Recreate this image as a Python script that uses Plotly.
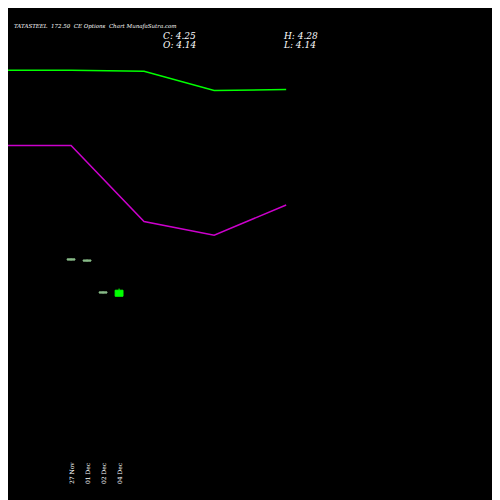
import plotly.graph_objects as go

dates = ["27 Nov", "01 Dec", "02 Dec", "04 Dec"]
cx = [0, 1, 2, 3]
opens = [4.82, 4.80, 4.22, 4.14]
closes = [4.80, 4.78, 4.20, 4.25]
highs = [4.83, 4.81, 4.23, 4.28]
lows = [4.79, 4.77, 4.19, 4.14]

line_x = [-4.44, 0, 4.56, 8.94, 13.44]
ma_green = [8.25, 8.25, 8.23, 7.88, 7.90]
ma_magenta = [6.88, 6.88, 5.50, 5.25, 5.80]

fig = go.Figure()
fig.add_trace(go.Scatter(x=line_x, y=ma_green, mode="lines", line=dict(color="#00ff00", width=1.5)))
fig.add_trace(go.Scatter(x=line_x, y=ma_magenta, mode="lines", line=dict(color="#cc00cc", width=1.5)))
fig.add_trace(go.Candlestick(x=cx, open=opens, close=closes, high=highs, low=lows,
    increasing=dict(line=dict(color="#00ff00", width=1), fillcolor="#00ff00"),
    decreasing=dict(line=dict(color="#88bb88", width=1), fillcolor="#88bb88"),
    whiskerwidth=0))
for x, d in zip(cx, dates):
    fig.add_annotation(x=x, y=0.0, yref="paper", yanchor="bottom", text=d, textangle=-90,
        showarrow=False, font=dict(color="white", size=6, family="DejaVu Serif"), yshift=22)
f = dict(color="white", family="DejaVu Serif", size=9)
fig.add_annotation(x=0.008, y=0.975, xref="paper", yref="paper", xanchor="left", showarrow=False,
    text="<i>TATASTEEL  172.50  CE Options  Chart MunafaSutra.com</i>", font=dict(color="white", family="DejaVu Serif", size=5.5))
fig.add_annotation(x=0.305, y=0.958, xref="paper", yref="paper", xanchor="left", showarrow=False, text="<i>C: 4.25</i>", font=f)
fig.add_annotation(x=0.305, y=0.94, xref="paper", yref="paper", xanchor="left", showarrow=False, text="<i>O: 4.14</i>", font=f)
fig.add_annotation(x=0.545, y=0.958, xref="paper", yref="paper", xanchor="left", showarrow=False, text="<i>H: 4.28</i>", font=f)
fig.add_annotation(x=0.545, y=0.94, xref="paper", yref="paper", xanchor="left", showarrow=False, text="<i>L: 4.14</i>", font=f)
fig.update_layout(width=500, height=500, margin=dict(l=0, r=0, t=0, b=0),
    paper_bgcolor="black", plot_bgcolor="black", showlegend=False,
    xaxis=dict(range=[-3.94, 27.3], visible=False, rangeslider=dict(visible=False)),
    yaxis=dict(range=[0.291, 9.38], visible=False))
fig.write_html("out.html")
